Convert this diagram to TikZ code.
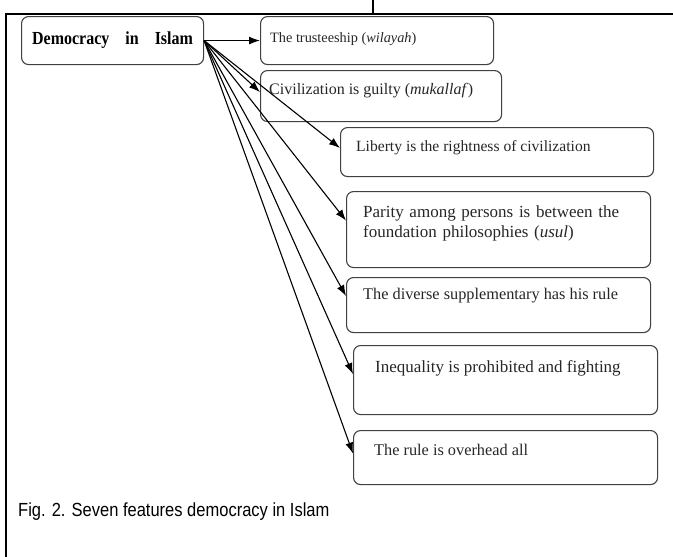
\documentclass[tikz,border=0pt]{standalone}
\usepackage{fontspec}
\usepackage{graphicx}
\setmainfont{Liberation Serif}
\newfontfamily\capfont{Liberation Sans}
\usetikzlibrary{arrows.meta}

\tikzset{
  featbox/.style={draw=black!75,line width=1.1pt,rounded corners=7pt,anchor=north west,inner sep=0pt},
  feattext/.style={anchor=west,inner sep=0pt,text=black!85,font=\fontsize{#1}{20}\selectfont},
  link/.style={line width=1.1pt,-{Latex[length=11pt,width=8pt]}}
}

\begin{document}
\begin{tikzpicture}[x=1pt,y=-1pt]
  \useasboundingbox (0,0) rectangle (673,557);
  % frame of the page
  \draw [line width=1.6pt] (6,557) -- (6,14) -- (673,14);
  \draw [line width=1.1pt] (373,0) -- (373,14);

  % centre box
  \node [featbox,minimum width=182pt,minimum height=48pt,
         font=\bfseries\fontsize{16}{18}\selectfont] (dem) at (21,16)
        {\scalebox{1}[1.15]{Democracy\hspace{16pt}in\hspace{16pt}Islam}};

  % the seven features
  \node [featbox,minimum width=233pt,minimum height=48pt] (f1) at (260,16) {};
  \node [featbox,minimum width=241pt,minimum height=51pt] (f2) at (260,70) {};
  \node [featbox,minimum width=313pt,minimum height=49pt] (f3) at (340,127) {};
  \node [featbox,minimum width=304pt,minimum height=76pt] (f4) at (346,191) {};
  \node [featbox,minimum width=304pt,minimum height=55pt] (f5) at (346,277) {};
  \node [featbox,minimum width=304pt,minimum height=69pt] (f6) at (353,345) {};
  \node [featbox,minimum width=304pt,minimum height=54pt] (f7) at (353,430) {};

  \node [feattext=14.3] (t1) at (270,39) {The trusteeship (\textit{wilayah})};
  \node [feattext=16] (t2) at (269,91) {Civilization is guilty (\textit{mukallaf})};
  \node [feattext=15.6] (t3) at (356,148) {Liberty is the rightness of civilization};
  \node [feattext=17,text width=269pt,align=left] (t4) at (363,223)
        {\makebox[269pt][s]{Parity among persons is between the}\\
         foundation philosophies (\textit{usul})};
  \node [feattext=16.3] (t5) at (363,296) {The diverse supplementary has his rule};
  \node [feattext=17] (t6) at (375,368) {Inequality is prohibited and fighting};
  \node [feattext=16.3] (t7) at (374,450) {The rule is overhead all};

  \draw [link] (dem.east) -- (f1.west);
  \draw [link] (dem.east) -- ([yshift=4pt]f2.west);
  \draw [link] (dem.east) -- ([yshift=4pt]f3.west);
  \draw [link] (dem.east) -- ([yshift=9pt]f4.west);
  \draw [link] (dem.east) -- ([yshift=9pt]f5.west);
  \draw [link] (dem.east) -- ([yshift=6pt]f6.west);
  \draw [link] (dem.east) -- ([yshift=4pt]f7.west);

  \node [anchor=west,inner sep=0pt,font=\capfont\fontsize{16.5}{18}\selectfont,
         transform shape,yscale=1.15] (cap) at (18,512)
        {Fig. 2. Seven features democracy in Islam};
\end{tikzpicture}
\end{document}
